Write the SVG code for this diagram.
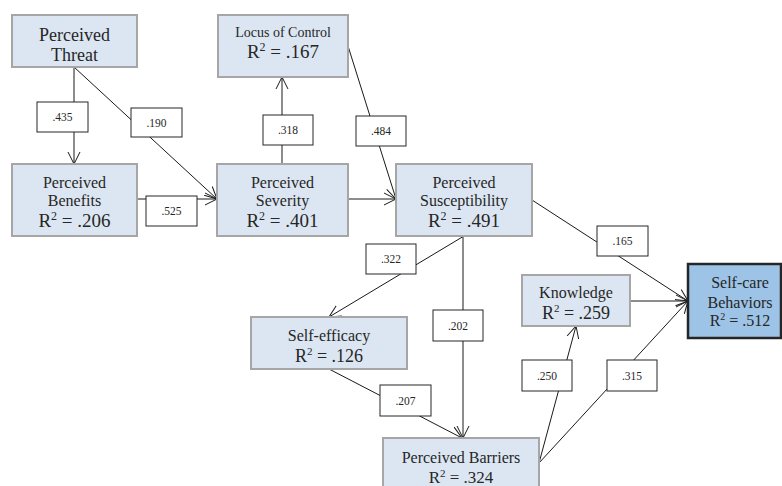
<svg xmlns="http://www.w3.org/2000/svg" width="782" height="486" viewBox="0 0 782 486">
<defs>
<style>
.n{fill:#dce6f2;stroke:#a6a6a6;stroke-width:2}
.dark{fill:#9dc3e6;stroke:#262626;stroke-width:2.5}
.t{font-family:"Liberation Serif","Times New Roman",serif;fill:#262626;text-anchor:middle}
.c{stroke:#1a1a1a;stroke-width:1;fill:none}
.lb{fill:#fff;stroke:#262626;stroke-width:1}
.lt{font-family:"Liberation Serif","Times New Roman",serif;font-size:11.5px;fill:#262626;text-anchor:middle}
</style>
<marker id="ah" markerUnits="userSpaceOnUse" markerWidth="14" markerHeight="14" refX="12" refY="6" orient="auto" viewBox="0 0 14 12">
<path d="M0,0 L12,6 L0,12" fill="none" stroke="#1a1a1a" stroke-width="1"/>
</marker>
</defs>
<rect width="782" height="486" fill="#fff"/>
<g id="connectors">
<line class="c" x1="74" y1="67" x2="74" y2="164" marker-end="url(#ah)"/>
<line class="c" x1="74" y1="67" x2="217" y2="199" marker-end="url(#ah)"/>
<line class="c" x1="137" y1="199" x2="217" y2="199" marker-end="url(#ah)"/>
<line class="c" x1="282" y1="164" x2="282" y2="77" marker-end="url(#ah)"/>
<line class="c" x1="348" y1="46" x2="396" y2="199" marker-end="url(#ah)"/>
<line class="c" x1="348" y1="199" x2="396" y2="199" marker-end="url(#ah)"/>
<line class="c" x1="532" y1="200" x2="688" y2="301" marker-end="url(#ah)"/>
<line class="c" x1="630" y1="301" x2="688" y2="301" marker-end="url(#ah)"/>
<line class="c" x1="539" y1="463" x2="688" y2="301" marker-end="url(#ah)"/>
<line class="c" x1="539" y1="463" x2="576" y2="326" marker-end="url(#ah)"/>
<line class="c" x1="464" y1="236" x2="329" y2="317" marker-end="url(#ah)"/>
<line class="c" x1="463" y1="236" x2="463" y2="438" marker-end="url(#ah)"/>
<line class="c" x1="329" y1="369" x2="462" y2="438" marker-end="url(#ah)"/>
</g>
<g id="labels">
<rect class="lb" x="37" y="102" width="51" height="30"/><text class="lt" x="62.5" y="121">.435</text>
<rect class="lb" x="131" y="108" width="51" height="29"/><text class="lt" x="156.5" y="126.5">.190</text>
<rect class="lb" x="263" y="115" width="50" height="30"/><text class="lt" x="288" y="134">.318</text>
<rect class="lb" x="356" y="116" width="50" height="30"/><text class="lt" x="381" y="135">.484</text>
<rect class="lb" x="146" y="196" width="51" height="30"/><text class="lt" x="171.5" y="215">.525</text>
<rect class="lb" x="366" y="244" width="50" height="30"/><text class="lt" x="391" y="263">.322</text>
<rect class="lb" x="597" y="226" width="51" height="30"/><text class="lt" x="622.5" y="245">.165</text>
<rect class="lb" x="433" y="310" width="50" height="31"/><text class="lt" x="458" y="329.5">.202</text>
<rect class="lb" x="380" y="385" width="51" height="31"/><text class="lt" x="405.5" y="404.5">.207</text>
<rect class="lb" x="522" y="360" width="50" height="31"/><text class="lt" x="547" y="379.5">.250</text>
<rect class="lb" x="607" y="360" width="50" height="31"/><text class="lt" x="632" y="379.5">.315</text>
</g>
<g id="threat">
<rect class="n" x="12" y="15" width="125" height="52"/>
<text class="t" x="74.5" y="41" font-size="18">Perceived</text>
<text class="t" x="74.5" y="61" font-size="18">Threat</text>
</g>
<g id="benefits">
<rect class="n" x="12" y="164" width="125" height="72"/>
<text class="t" x="74.5" y="187.5" font-size="16">Perceived</text>
<text class="t" x="74.5" y="205.5" font-size="16">Benefits</text>
<text class="t" x="74.5" y="227" font-size="19">R<tspan font-size="12" dy="-7">2</tspan><tspan dy="7"> = .206</tspan></text>
</g>
<g id="severity">
<rect class="n" x="217" y="164" width="131" height="72"/>
<text class="t" x="282.5" y="187.5" font-size="16">Perceived</text>
<text class="t" x="282.5" y="205.5" font-size="16">Severity</text>
<text class="t" x="282.5" y="227" font-size="19">R<tspan font-size="12" dy="-7">2</tspan><tspan dy="7"> = .401</tspan></text>
</g>
<g id="locus">
<rect class="n" x="218" y="15" width="130" height="62"/>
<text class="t" x="283" y="37" font-size="14">Locus of Control</text>
<text class="t" x="283" y="58" font-size="19">R<tspan font-size="12" dy="-7">2</tspan><tspan dy="7"> = .167</tspan></text>
</g>
<g id="susceptibility">
<rect class="n" x="396" y="164" width="136" height="72"/>
<text class="t" x="464" y="187.5" font-size="16">Perceived</text>
<text class="t" x="464" y="205.5" font-size="16">Susceptibility</text>
<text class="t" x="464" y="227" font-size="19">R<tspan font-size="12" dy="-7">2</tspan><tspan dy="7"> = .491</tspan></text>
</g>
<g id="knowledge">
<rect class="n" x="522" y="275" width="108" height="51"/>
<text class="t" x="576" y="297.5" font-size="16">Knowledge</text>
<text class="t" x="576" y="318.5" font-size="18">R<tspan font-size="11" dy="-7">2</tspan><tspan dy="7"> = .259</tspan></text>
</g>
<g id="selfefficacy">
<rect class="n" x="251" y="317" width="156" height="52"/>
<text class="t" x="329" y="340.5" font-size="16">Self-efficacy</text>
<text class="t" x="329" y="361.5" font-size="18">R<tspan font-size="11" dy="-7">2</tspan><tspan dy="7"> = .126</tspan></text>
</g>
<g id="barriers">
<rect class="n" x="383" y="438" width="156" height="60"/>
<text class="t" x="461" y="462.5" font-size="16">Perceived Barriers</text>
<text class="t" x="461" y="483" font-size="17">R<tspan font-size="11" dy="-6">2</tspan><tspan dy="6"> = .324</tspan></text>
</g>
<g id="selfcare">
<rect class="dark" x="688" y="264" width="93" height="74"/>
<text class="t" x="740" y="287.5" font-size="16">Self-care</text>
<text class="t" x="740" y="307.5" font-size="16">Behaviors</text>
<text class="t" x="740" y="326" font-size="16">R<tspan font-size="10" dy="-6">2</tspan><tspan dy="6"> = .512</tspan></text>
</g>
</svg>
